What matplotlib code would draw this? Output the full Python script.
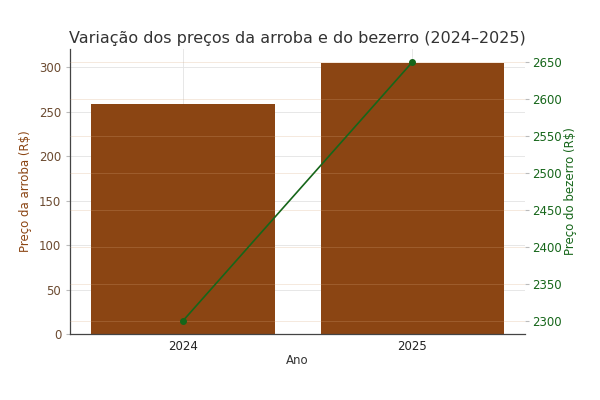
import matplotlib.pyplot as plt
import numpy as np

# dados
anos = ["2024", "2025"]
arroba = [258, 305]
bezerro = [2300, 2650]

brown = "#8B4513"
green = "#16661a"

plt.rcParams["font.family"] = "DejaVu Sans"

fig = plt.figure(figsize=(6, 4), dpi=100)
ax = fig.add_axes([0.117, 0.165, 0.758, 0.7125])

x = np.arange(len(anos))
ax.bar(x, arroba, width=0.8, color=brown, zorder=2)
ax.set_xticks(x)
ax.set_xticklabels(anos)
ax.set_xlabel("Ano", fontsize=8.5, color="#333333", labelpad=1)
ax.set_ylabel("Preço da arroba (R$)", fontsize=8.5, color=brown, labelpad=5)
ax.tick_params(axis="y", labelcolor="#6b4a30", labelsize=8.5, length=3, color="#bbbbbb")
ax.tick_params(axis="x", labelcolor="#222222", labelsize=8.5, length=0, pad=4)
ax.grid(True, color="#e3e3e3", linewidth=0.6, zorder=0)
ax.set_axisbelow(True)
for s in ["top", "right"]:
    ax.spines[s].set_visible(False)
for s in ["left", "bottom"]:
    ax.spines[s].set_color("#444444")
    ax.spines[s].set_linewidth(0.9)

ax2 = ax.twinx()
ax2.plot(x, bezerro, color=green, marker="o", markersize=4, linewidth=1.2)
ax2.set_ylabel("Preço do bezerro (R$)", fontsize=8.5, color=green, labelpad=2)
ax2.tick_params(axis="y", labelcolor=green, labelsize=8.5, length=3, pad=2, color="#bbbbbb")
ax2.grid(True, color="#d9a77a", linewidth=0.5, alpha=0.35)
for s in ax2.spines.values():
    s.set_visible(False)

ax.set_title("Variação dos preços da arroba e do bezerro (2024–2025)",
             fontsize=11.5, color="#333333", pad=4)

fig.savefig("out.png", dpi=100)
